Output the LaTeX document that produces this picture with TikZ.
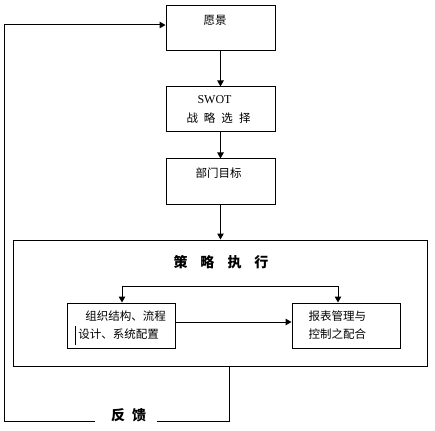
\documentclass[tikz,border=0pt]{standalone}
\usepackage{fontspec}
\setmainfont{Liberation Serif}
\newfontfamily\cjk{Noto Sans CJK SC}
\usetikzlibrary{arrows.meta}
\begin{document}
\begin{tikzpicture}[x=1pt,y=-1pt,
  line width=1pt,
  box/.style={draw,rectangle,inner sep=0pt,minimum width=#1,minimum height=45pt},
  box/.default=109pt,
  arr/.style={-{Triangle[width=6.5pt,length=6pt]}},
  txt/.style={inner sep=0pt,font=\cjk\fontsize{11.5pt}{13pt}\selectfont},
  btxt/.style={inner sep=0pt,font=\cjk\bfseries\fontsize{14pt}{16pt}\selectfont}]
\useasboundingbox (0,0) rectangle (435,430);
% top boxes
\node[box] (vision) at (220.5,28.5) {};
\node[box] (swot) at (220.5,109.5) {};
\node[box] (dept) at (220.5,181.5) {};
\node[txt] (tvision) at (215,20) {愿景};
\node[inner sep=0pt,font=\fontsize{12pt}{14pt}\selectfont] (tswot) at (214.5,100) {SWOT};
\node[txt] (tswot2) at (218.5,118) {战\hspace{6pt}略\hspace{6pt}选\hspace{6pt}择};
\node[txt] (tdept) at (218.5,173) {部门目标};
% big box
\node[draw,rectangle,inner sep=0pt,minimum width=414pt,minimum height=126pt] (big) at (220,303) {};
\node[btxt] (tbig) at (221,262) {策\hspace{13pt}略\hspace{13pt}执\hspace{13pt}行};
% inner boxes
\node[box=108pt] (lbox) at (121,325.5) {};
\node[box=108pt] (rbox) at (346,325.5) {};
\node[txt] (tl1) at (125.5,316) {组织结构、流程};
\node[txt] (tl2) at (118.5,334) {设计、系统配置};
\node[txt,anchor=west] (tr1) at (308,316) {报表管理与};
\node[txt,anchor=west] (tr2) at (308,334) {控制之配合};
\draw[line width=0.8pt] (75.5,326) -- (75.5,345);
% vertical arrows
\draw[arr] (vision) -- (swot);
\draw[arr] (swot) -- (dept);
\draw[arr] (dept.south) -- (dept.south |- big.north);
% inner connectors
\coordinate (tl) at (122,286);
\coordinate (tr) at (338,286);
\draw (tl) -- (tr);
\draw[arr] (tl) -- (tl |- lbox.north);
\draw[arr] (tr) -- (tr |- rbox.north);
\coordinate (ay) at (0,322);
\draw[arr] (lbox.east |- ay) -- (rbox.west |- ay);
% feedback
\coordinate (fb0) at (229,366);
\coordinate (fb1) at (229,421);
\coordinate (fb2) at (157,421);
\coordinate (fb3) at (95,421);
\coordinate (fb4) at (4,421);
\coordinate (fb5) at (4,25);
\node[btxt] (tfb) at (128.5,415) {反\hspace{7pt}馈};
\draw (fb0) -- (fb1) -- (fb2);
\draw[arr] (fb3) -- (fb4) -- (fb5) -- (vision.west |- fb5);
\end{tikzpicture}
\end{document}
